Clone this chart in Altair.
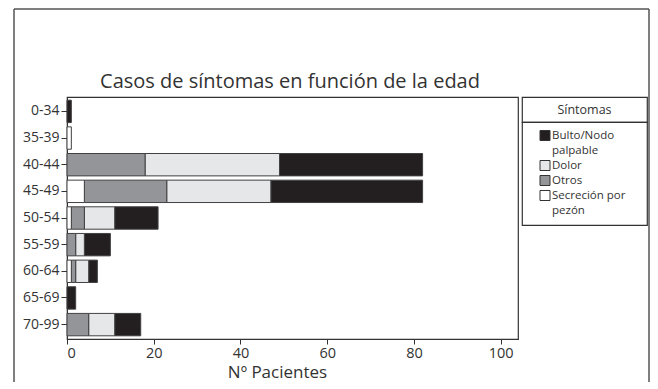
import altair as alt
import pandas as pd

# ---- data ----
ages = ["0-34", "35-39", "40-44", "45-49", "50-54", "55-59", "60-64", "65-69", "70-99"]
symptoms = ["Bulto/Nodo palpable", "Dolor", "Otros", "Secreción por pezón"]
bulto = [1, 0, 33, 35, 10, 6, 2, 2, 6]
dolor = [0, 0, 31, 24, 7, 2, 3, 0, 6]
otros = [0, 0, 18, 19, 3, 2, 1, 0, 5]
secrecion = [0, 1, 0, 4, 1, 0, 1, 0, 0]
stack_order = ["Secreción por pezón", "Otros", "Dolor", "Bulto/Nodo palpable"]
colors = ["#231f20", "#e6e7e8", "#939598", "#ffffff"]
legend_title = "Síntomas"
legend_lines = [["Bulto/Nodo", "palpable"], ["Dolor"], ["Otros"], ["Secreción por", "pezón"]]
x_ticks = [0, 20, 40, 60, 80, 100]
chart_title = "Casos de síntomas en función de la edad"
x_title = "Nº Pacientes"

FONT = "Open Sans"
INK = "#333333"

rows = []
for i, a in enumerate(ages):
    for s, vals in zip(symptoms, [bulto, dolor, otros, secrecion]):
        if vals[i] > 0:
            rows.append({"edad": a, "sintoma": s, "n": vals[i], "orden": stack_order.index(s)})
df = pd.DataFrame(rows)

color_scale = alt.Scale(domain=symptoms, range=colors)

bars = alt.Chart(df).mark_bar(stroke="#414042", strokeWidth=1).encode(
    x=alt.X("n:Q", stack="zero",
            scale=alt.Scale(domain=[0, 104], nice=False),
            axis=alt.Axis(values=x_ticks, title=x_title, grid=False, tickSize=5,
                          labelFontSize=14.5, labelPadding=2, titleFontSize=17,
                          titleFontWeight="normal", titleX=210, titleY=25,
                          titleBaseline="top",
                          labelColor=INK, titleColor=INK, domainColor=INK, tickColor=INK)),
    y=alt.Y("edad:N", sort=ages,
            scale=alt.Scale(paddingInner=0.16, paddingOuter=0.12),
            axis=alt.Axis(title=None, tickSize=6, labelFontSize=14, labelPadding=2,
                          labelColor=INK, domainColor=INK, tickColor=INK)),
    color=alt.Color("sintoma:N", scale=color_scale, legend=None),
    order=alt.Order("orden:Q"),
)

frame = alt.Chart(alt.Data(values=[{}])).mark_rule(stroke="#555555", strokeWidth=1.5, clip=False)
f_left = frame.encode(x=alt.value(-53), y=alt.value(-88), y2=alt.value(320))
f_top = frame.encode(x=alt.value(-53), x2=alt.value(582), y=alt.value(-88))
f_right = frame.encode(x=alt.value(582), y=alt.value(-88), y2=alt.value(320))

title_mark = alt.Chart(alt.Data(values=[{"t": chart_title}])).mark_text(
    fontSize=20, font=FONT, color=INK, baseline="middle", align="center"
).encode(text="t:N", x=alt.value(223), y=alt.value(-15))

main = alt.layer(bars, f_left, f_top, f_right, title_mark).properties(width=451, height=242)

# ---- legend built from the same scale ----
sq_rows, txt_rows = [], []
line = 0
for s, lines in zip(symptoms, legend_lines):
    sq_rows.append({"sintoma": s, "linea": line})
    for t in lines:
        txt_rows.append({"texto": t, "linea": line})
        line += 1
sq_df = pd.DataFrame(sq_rows)
txt_df = pd.DataFrame(txt_rows)
yscale = alt.Scale(domain=[-0.9, 103 / 15 - 0.9], reverse=True, nice=False, zero=False)

LEG_W = 125
leg_head = alt.Chart(alt.Data(values=[{"t": legend_title}])).mark_text(
    fontSize=12.5, font=FONT, color=INK
).encode(text="t:N", x=alt.value(LEG_W / 2), y=alt.value(12.5)).properties(width=LEG_W, height=25)

sq = alt.Chart(sq_df).mark_square(size=100, stroke="#333333", strokeWidth=1, opacity=1).encode(
    x=alt.value(23),
    y=alt.Y("linea:Q", scale=yscale, axis=None),
    color=alt.Color("sintoma:N", scale=color_scale, legend=None),
)
txt = alt.Chart(txt_df).mark_text(align="left", baseline="middle", fontSize=11.5, font=FONT,
                                  color=INK).encode(
    x=alt.value(30),
    y=alt.Y("linea:Q", scale=yscale, axis=None),
    text="texto:N",
)
entries = alt.layer(sq, txt).properties(width=LEG_W, height=103)

legend = alt.vconcat(leg_head, entries, spacing=0, bounds="flush")

chart = alt.hconcat(main, legend, spacing=4, bounds="flush").properties(
    autosize=alt.AutoSizeParams(type="none"),
    padding={"left": 59, "top": 89, "right": 583, "bottom": 285},
).configure(font=FONT).configure_view(stroke="#333333", strokeWidth=1.2)

chart.save("out.html", embed_options={"renderer": "svg", "actions": False})
